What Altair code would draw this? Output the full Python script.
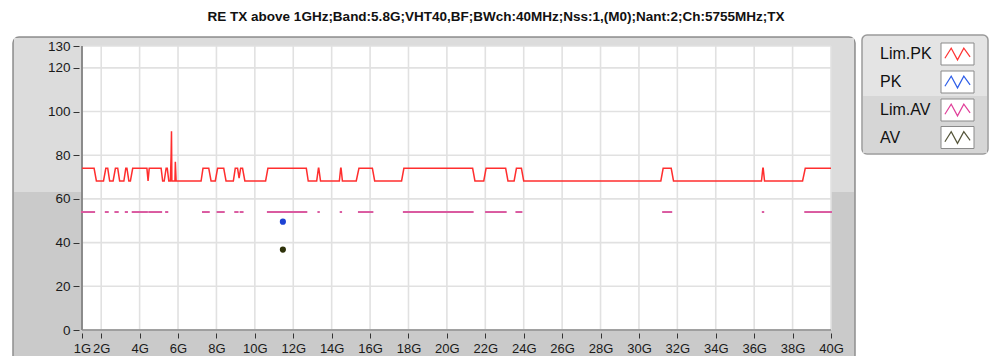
import altair as alt
import pandas as pd

TITLE = "RE TX above 1GHz;Band:5.8G;VHT40,BF;BWch:40MHz;Nss:1,(M0);Nant:2;Ch:5755MHz;TX"

# Lim.PK trace (GHz, dBuV/m)
LIM_PK_FREQ = [1.00, 1.63, 1.75, 2.12, 2.24, 2.34, 2.44, 2.62, 2.74, 2.86, 2.96, 3.18, 3.28, 3.34,
               3.44, 3.52, 3.64, 4.38, 4.44, 4.50, 5.12, 5.20, 5.28, 5.38, 5.44, 5.52, 5.60, 5.64,
               5.66, 5.68, 5.84, 5.86, 5.90, 7.20, 7.30, 7.60, 7.72, 7.94, 8.06, 8.38, 8.50, 8.88,
               8.98, 9.10, 9.18, 9.26, 9.36, 9.48, 10.56, 10.68, 12.68, 12.78, 13.22, 13.31, 13.33,
               13.42, 14.40, 14.47, 14.49, 14.56, 15.28, 15.42, 16.12, 16.24, 17.64, 17.76, 21.34,
               21.46, 21.92, 22.04, 23.06, 23.18, 23.50, 23.62, 23.88, 24.00, 31.14, 31.26, 31.68,
               31.80, 36.38, 36.45, 36.47, 36.54, 38.52, 38.66, 40.00]
LIM_PK_VAL = [74, 74, 68.2, 68.2, 74, 74, 68.2, 68.2, 74, 74, 68.2, 68.2, 74, 74,
              68.2, 68.2, 74, 74, 68.2, 74, 74, 68.2, 68.2, 74, 74, 68.2, 68.2, 80,
              91, 68.2, 68.2, 77, 68.2, 68.2, 74, 74, 68.2, 68.2, 74, 74, 68.2, 68.2,
              74, 74, 69.5, 74, 74, 68.2, 68.2, 74, 74, 68.2, 68.2, 74, 74,
              68.2, 68.2, 74, 74, 68.2, 68.2, 74, 74, 68.2, 68.2, 74, 74,
              68.2, 68.2, 74, 74, 68.2, 68.2, 74, 74, 68.2, 68.2, 74, 74,
              68.2, 68.2, 74, 74, 68.2, 68.2, 74, 74]

# Lim.AV segments (GHz) at 54 dBuV/m
LIM_AV_START = [1.00, 2.24, 2.74, 3.28, 3.64, 4.50, 5.38, 7.30, 8.06, 8.98, 9.26, 10.68, 13.31,
                14.47, 15.42, 17.76, 22.04, 23.62, 31.26, 36.45, 38.66]
LIM_AV_END = [1.63, 2.34, 2.86, 3.34, 4.38, 5.12, 5.44, 7.60, 8.38, 9.10, 9.36, 12.68, 13.33,
              14.49, 16.12, 21.34, 23.06, 23.88, 31.68, 36.47, 40.00]
LIM_AV_LEVEL = [54] * len(LIM_AV_START)

PK_FREQ = [11.46]
PK_VAL = [49.6]
AV_FREQ = [11.46]
AV_VAL = [36.8]

X_TICKS = [1, 2, 4, 6, 8, 10, 12, 14, 16, 18, 20, 22, 24, 26, 28, 30, 32, 34, 36, 38, 40]
Y_TICKS = [0, 20, 40, 60, 80, 100, 120, 130]

LEGEND_NAMES = ["Lim.PK", "PK", "Lim.AV", "AV"]
LEGEND_COLORS = ["#ff3333", "#2f5fe8", "#e0409a", "#55553a"]

FONT = "Liberation Sans"
X_SCALE = alt.Scale(domain=[1, 40], nice=False, zero=False)
Y_SCALE = alt.Scale(domain=[0, 130], nice=False, zero=False)
X_AXIS = alt.Axis(values=X_TICKS, labelExpr="datum.value + 'G'", grid=False, domain=False,
                  offset=3, tickSize=5, tickColor="#333333", labelFontSize=13, labelFont=FONT,
                  labelColor="#1a1a1a", labelPadding=4, labelOverlap=False, labelFlush=False,
                  title=None, zindex=1)
Y_AXIS = alt.Axis(values=Y_TICKS, grid=False, domain=False, offset=3, tickSize=6,
                  tickColor="#333333", labelFontSize=13.5, labelFont=FONT, labelColor="#1a1a1a",
                  labelPadding=3, labelOverlap=False, labelFlush=False, title=None, zindex=1)

pk_df = pd.DataFrame({"f": LIM_PK_FREQ, "v": LIM_PK_VAL})
av_lim_df = pd.DataFrame({"f0": LIM_AV_START, "f1": LIM_AV_END, "v": LIM_AV_LEVEL})
pk_pt = pd.DataFrame({"f": PK_FREQ, "v": PK_VAL})
av_pt = pd.DataFrame({"f": AV_FREQ, "v": AV_VAL})
xt_df = pd.DataFrame({"t": X_TICKS})
yt_df = pd.DataFrame({"t": Y_TICKS})
one = pd.DataFrame({"a": [0]})

def X(field):
    return alt.X(field, type="quantitative", scale=X_SCALE, axis=X_AXIS)

def Y(field):
    return alt.Y(field, type="quantitative", scale=Y_SCALE, axis=Y_AXIS)

layers = []
# frame (decoration)
layers.append(alt.Chart(one).mark_rect(fill="#cacaca", stroke="#8f8f8f", strokeWidth=1.5,
                                       cornerRadius=6).encode(
    x=alt.value(-69), x2=alt.value(773), y=alt.value(-9), y2=alt.value(330)))
layers.append(alt.Chart(one).mark_rect(fill="#dcdcdc").encode(
    x=alt.value(-68), x2=alt.value(772), y=alt.value(-8), y2=alt.value(146)))
# legend box (decoration)
layers.append(alt.Chart(one).mark_rect(fill="#e4e4e4", stroke="#9a9a9a", strokeWidth=1.5,
                                       cornerRadius=5).encode(
    x=alt.value(780), x2=alt.value(906), y=alt.value(-11), y2=alt.value(108)))
layers.append(alt.Chart(one).mark_rect(fill="#d6d6d6").encode(
    x=alt.value(781), x2=alt.value(905), y=alt.value(50), y2=alt.value(107)))
# plot background
layers.append(alt.Chart(one).mark_rect(fill="white").encode(
    x=alt.X(datum=1, type="quantitative", scale=X_SCALE, axis=X_AXIS), x2=alt.X2(datum=40),
    y=alt.Y(datum=0, type="quantitative", scale=Y_SCALE, axis=Y_AXIS), y2=alt.Y2(datum=130)))
# grid
layers.append(alt.Chart(xt_df).mark_rule(color="#e1e1e1", strokeWidth=1.6).encode(x=X("t")))
layers.append(alt.Chart(yt_df).mark_rule(color="#e1e1e1", strokeWidth=1.6).encode(y=Y("t")))
# plot border (left / bottom)
layers.append(alt.Chart(one).mark_rule(color="#6e6e6e", strokeWidth=1.5).encode(
    x=alt.X(datum=1, type="quantitative", scale=X_SCALE, axis=X_AXIS)))
layers.append(alt.Chart(one).mark_rule(color="#8a8a8a", strokeWidth=1.5).encode(
    y=alt.Y(datum=0, type="quantitative", scale=Y_SCALE, axis=Y_AXIS)))
# data
layers.append(alt.Chart(av_lim_df).mark_rule(color="#da5aa0", strokeWidth=2, strokeCap="square").encode(
    x=X("f0"), x2=alt.X2("f1"), y=Y("v")))
layers.append(alt.Chart(pk_df).mark_line(color="#ff2e2e", strokeWidth=1.5).encode(x=X("f"), y=Y("v")))
layers.append(alt.Chart(pk_pt).mark_point(filled=True, color="#1d42d4", size=38, opacity=1).encode(
    x=X("f"), y=Y("v")))
layers.append(alt.Chart(av_pt).mark_point(filled=True, color="#2e320a", size=38, opacity=1).encode(
    x=X("f"), y=Y("v")))

# legend entries (decoration)
ZIG = "M-0.9,0.3L-0.45,-0.42L0,0.42L0.45,-0.42L0.9,0.2"
row_y = [8, 36, 64, 91.5]
for name, color, yy in zip(LEGEND_NAMES, LEGEND_COLORS, row_y):
    layers.append(alt.Chart(one).mark_rect(fill="white", stroke="#8a8a8a", strokeWidth=1).encode(
        x=alt.value(859), x2=alt.value(892), y=alt.value(yy - 11), y2=alt.value(yy + 11)))
    layers.append(alt.Chart(one).mark_point(shape=ZIG, filled=False, stroke=color, strokeWidth=1.2,
                                            size=784, opacity=1).encode(
        x=alt.value(875.5), y=alt.value(yy)))
    layers.append(alt.Chart(one).mark_text(text=name, align="left", baseline="middle", font=FONT,
                                           fontSize=16, color="#111111").encode(
        x=alt.value(798), y=alt.value(yy)))

# title
layers.append(alt.Chart(one).mark_text(text=TITLE, align="center", baseline="middle", font=FONT,
                                       fontSize=13.5, fontWeight="bold", color="#111111").encode(
    x=alt.value(414), y=alt.value(-29)))

chart = alt.layer(*layers).properties(
    width=749, height=284,
    padding={"left": 74, "top": 38, "right": 159, "bottom": 26},
    autosize=alt.AutoSizeParams(type="none"),
).configure_view(stroke=None).configure(background="white")

chart.save("out.html", embed_options={"renderer": "svg", "actions": False})
